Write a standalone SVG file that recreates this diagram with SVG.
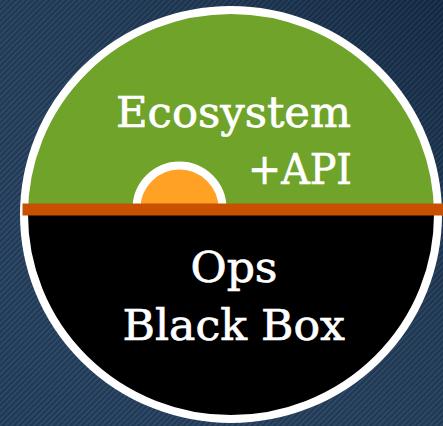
<svg xmlns="http://www.w3.org/2000/svg" width="443" height="426" viewBox="0 0 443 426">
  <defs>
    <style>
      .label { font-family: "DejaVu Serif", "Liberation Serif", serif; font-size: 42px; fill: #ffffff; stroke: #ffffff; stroke-width: 0.7px; }
    </style>
    <!-- fine diagonal stripes over the navy backdrop -->
    <pattern id="stripes" width="4" height="4" patternUnits="userSpaceOnUse" patternTransform="rotate(-45)">
      <rect width="4" height="4" fill="#172e48"/>
      <rect width="4" height="1.6" fill="#22446a"/>
    </pattern>
    <linearGradient id="shade" x1="0" y1="1" x2="1" y2="0">
      <stop offset="0" stop-color="#ffffff" stop-opacity="0.04"/>
      <stop offset="1" stop-color="#000000" stop-opacity="0.18"/>
    </linearGradient>
    <clipPath id="discClip">
      <ellipse cx="231" cy="214.5" rx="207" ry="204.5"/>
    </clipPath>
    <clipPath id="sunClip">
      <rect x="100" y="140" width="160" height="70"/>
    </clipPath>
  </defs>

  <!-- backdrop -->
  <g id="background">
    <rect width="443" height="426" fill="url(#stripes)"/>
    <rect width="443" height="426" fill="url(#shade)"/>
  </g>

  <!-- upper half: ecosystem -->
  <g id="ecosystem">
    <ellipse cx="231" cy="214.5" rx="207" ry="204.5" fill="#6fa32a"/>
  </g>

  <!-- lower half: ops black box -->
  <g id="ops" clip-path="url(#discClip)">
    <rect x="0" y="212" width="443" height="220" fill="#000000"/>
  </g>

  <!-- white rim -->
  <ellipse id="rim" cx="231" cy="214.5" rx="207" ry="204.5" fill="none" stroke="#ffffff" stroke-width="8"/>

  <!-- rising sun on the horizon -->
  <g id="sun" clip-path="url(#sunClip)">
    <circle cx="179.5" cy="208.5" r="43" fill="#ffa125" stroke="#ffffff" stroke-width="8"/>
  </g>

  <!-- horizon bar -->
  <g id="divider">
    <rect x="22.5" y="203.5" width="421" height="12" fill="#c85000"/>
  </g>

  <g id="texts">
    <text class="label" x="116" y="126.5" textLength="235" lengthAdjust="spacingAndGlyphs">Ecosystem</text>
    <text class="label" x="248" y="184" textLength="104" lengthAdjust="spacingAndGlyphs">+API</text>
    <text class="label" x="190.5" y="281.5" textLength="87" lengthAdjust="spacingAndGlyphs">Ops</text>
    <text class="label" x="122.5" y="339.5" textLength="222.5" lengthAdjust="spacingAndGlyphs">Black Box</text>
  </g>
</svg>
